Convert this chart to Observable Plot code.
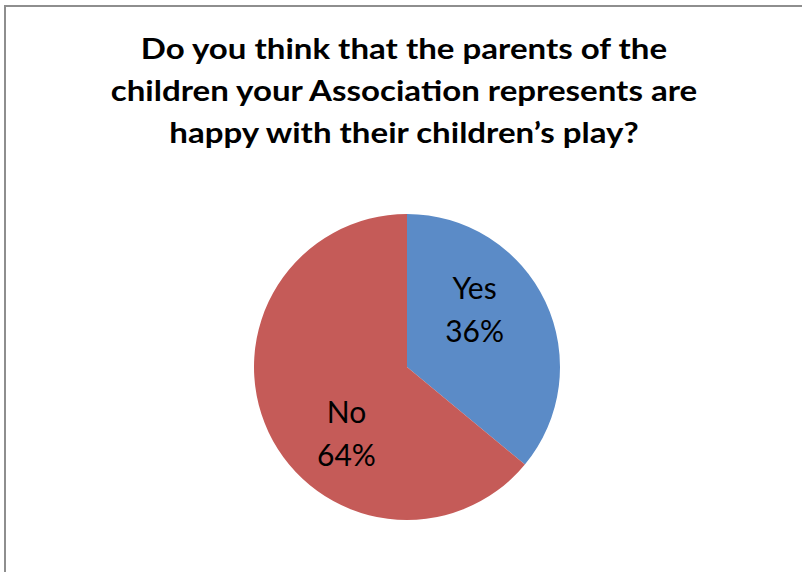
<!DOCTYPE html>
<html>
<head>
<meta charset="utf-8">
<script src="https://cdn.jsdelivr.net/npm/d3@7"></script>
<script src="https://cdn.jsdelivr.net/npm/@observablehq/plot@0.6"></script>
<style>
  html, body { margin: 0; padding: 0; background: #fff; }
  #wrap { position: relative; width: 802px; height: 572px; overflow: hidden; background: #fff; }
  #frame { position: absolute; left: 4px; top: 5px; right: -4px; bottom: -4px;
           border-left: 2px solid #8e8e8e; border-top: 2px solid #8e8e8e; }
  #title { position: absolute; left: 0; width: 808px; top: 27px; text-align: center;
           font-family: Lato, "Open Sans", sans-serif; font-weight: bold; font-size: 28px;
           line-height: 42px; color: #000; transform: scaleX(1.18); transform-origin: 404px 0; }
  #chart { position: absolute; left: 0; top: 0; }
</style>
</head>
<body>
<div id="wrap">
  <div id="frame"></div>
  <div id="chart"></div>
  <div id="title"></div>
</div>
<script>
const titleLines = [
  "Do you think that the parents of the",
  "children your Association represents are",
  "happy with their children’s play?"
];
const categories = ["Yes", "No"];
const percents = [36, 64];
const colors = ["#5B8BC7", "#C55B58"];

document.getElementById("title").innerHTML = titleLines.join("<br>");

const rows = categories.map((c, i) => ({category: c, value: percents[i], color: colors[i]}));
const arcs = d3.pie().sort(null).value(d => d.value)(rows);

// label anchor: mid-angle of each slice at 60% of the radius (data units)
const labelR = 0.6;
const labels = arcs.map(a => {
  const m = (a.startAngle + a.endAngle) / 2;
  return {category: a.data.category, text: `${a.data.category}\n${a.data.value}%`,
          x: labelR * Math.sin(m), y: labelR * Math.cos(m)};
});

function pieMark(index, scales) {
  const sx = scales.x, sy = scales.y;
  const cx = sx(0), cy = sy(0);
  const r = Math.abs(sx(1) - sx(0));
  const arcGen = d3.arc().innerRadius(0).outerRadius(r);
  const g = d3.create("svg:g").attr("transform", `translate(${cx},${cy})`);
  g.selectAll("path").data(arcs).join("path")
    .attr("d", arcGen)
    .attr("fill", d => d.data.color);
  return g.node();
}

const textStyle = {
  x: "x", y: "y", text: "text",
  fontSize: 30, lineHeight: 1.43, fill: "#000",
  fontFamily: "Lato, 'Open Sans', sans-serif", textAnchor: "middle"
};

const chart = Plot.plot({
  width: 802,
  height: 572,
  margin: 0,
  style: {background: "transparent", overflow: "visible"},
  x: {domain: [-1, 1], range: [254, 560], axis: null},
  y: {domain: [-1, 1], range: [520, 214], axis: null},
  marks: [
    pieMark,
    Plot.text(labels.filter(d => d.category === "Yes"), {...textStyle, dx: -16, dy: -22}),
    Plot.text(labels.filter(d => d.category === "No"), {...textStyle, dx: 22, dy: 24})
  ]
});
document.getElementById("chart").appendChild(chart);
</script>
</body>
</html>
